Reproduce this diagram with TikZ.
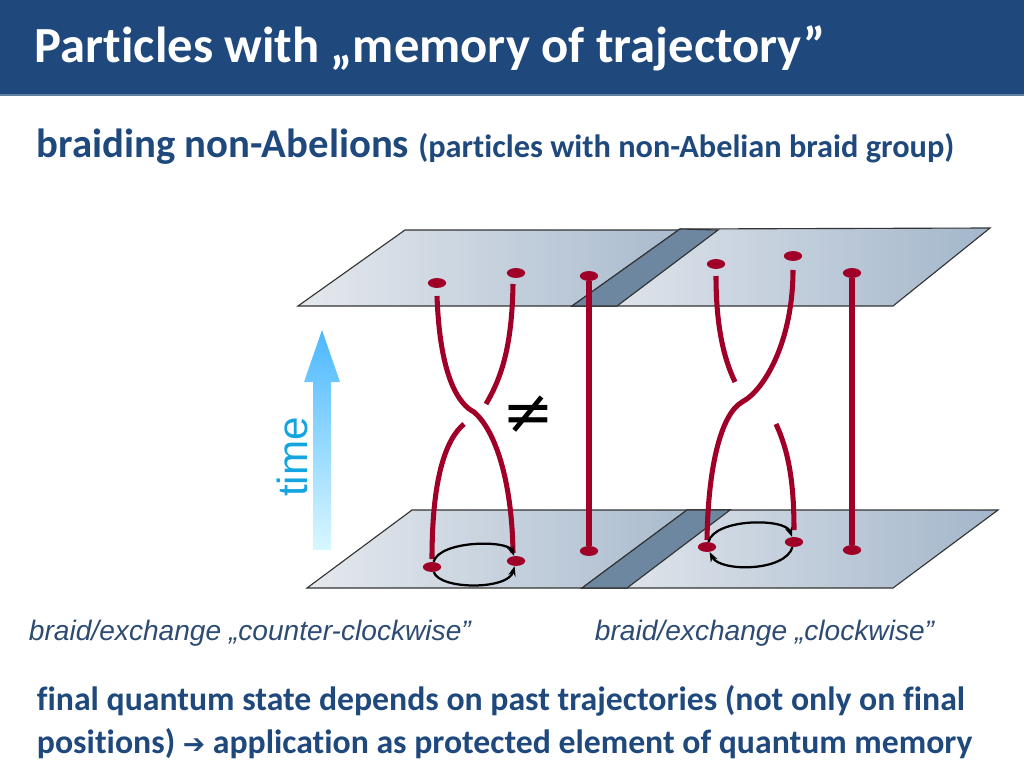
\documentclass[tikz,border=0pt]{standalone}
\usepackage{fontspec}
\setmainfont[Ligatures={NoCommon,NoRequired,NoContextual}]{Carlito}
\newfontfamily\capfont{Liberation Sans}
\newfontfamily\symfont{DejaVu Sans}
\usetikzlibrary{arrows.meta,shapes.geometric}
\definecolor{barblue}{RGB}{31,73,125}
\definecolor{strand}{RGB}{160,0,40}
\definecolor{planeA}{RGB}{222,227,233}
\definecolor{planeB}{RGB}{140,164,190}
\definecolor{overlap}{RGB}{110,135,160}
\definecolor{timecol}{RGB}{20,165,225}
\definecolor{capcol}{RGB}{45,75,115}
\begin{document}
\begin{tikzpicture}[x=0.025cm,y=-0.025cm,
    plane/.style={draw=black!80, line width=0.8pt, left color=planeA, right color=planeB, shading angle=90, fill opacity=0.8},
    braid/.style={draw=strand, line width=3.6pt},
    dot/.style={ellipse, fill=strand, minimum width=13pt, minimum height=7pt, inner sep=0pt},
    swap/.style={draw=black, line width=1.6pt, -{Stealth[length=7pt]}}]
    \useasboundingbox (0,0) rectangle (1024,768);

    % Titel
    \fill[barblue] (0,0) rectangle (1024,95);
    \draw[barblue!70, line width=1pt] (0,95) -- (1024,95);
    \node[anchor=west, text=white, font=\fontsize{36}{40}\selectfont\bfseries] (title) at (30,48) {Particles with „memory of trajectory”};
    \node[anchor=base west, text=barblue, font=\fontsize{29}{32}\selectfont\bfseries] (sub) at (32,158) {braiding non-Abelions \fontsize{23}{26}\selectfont(particles with non-Abelian braid group)};

    % Ebenen
    \shade[plane] (298,306) -- (405,230) -- (718,230) -- (617,306) -- cycle;
    \shade[plane] (572,306) -- (680,229) -- (990,228) -- (893,306) -- cycle;
    \fill[overlap, draw=black!80, line width=0.8pt] (572,306) -- (680,229) -- (718,230) -- (617,306) -- cycle;
    \shade[plane] (307,588) -- (412,510) -- (730,510) -- (627,588) -- cycle;
    \shade[plane] (582,588) -- (687,510) -- (998,510) -- (893,588) -- cycle;
    \fill[overlap, draw=black!80, line width=0.8pt] (582,588) -- (687,510) -- (730,510) -- (627,588) -- cycle;

    % Zeitpfeil
    \shade[bottom color=blue!20!cyan!15, top color=blue!40!cyan!70] (313,550) -- (313,382) -- (304,382) -- (322,330) -- (340,382) -- (331,382) -- (331,550) -- cycle;
    \node[rotate=90, text=timecol, font=\capfont\fontsize{30}{34}\selectfont] (time) at (292,457) {time};

    % Teilchen
    \foreach \n/\x/\y in {a1/437/283, a2/516/273, a3/589/276, b1/716/264, b2/793/256, b3/852/273,
                          c1/432/567, c2/516/561, c3/589/551, d1/707/547, d2/794/542, d3/852/550}
        \node[dot] (\n) at (\x,\y) {};

    % Zoepfe links
    \draw[braid] (437,296) .. controls (440,380) and (460,405) .. (474,412) .. controls (495,430) and (512,480) .. (513,553);
    \draw[braid] (513,284) .. controls (512,350) and (500,380) .. (486,404);
    \draw[braid] (432,559) .. controls (432,480) and (445,440) .. (464,424);
    \draw[braid] (a3) -- (c3);
    % Zoepfe rechts
    \draw[braid] (707,540) .. controls (708,470) and (720,415) .. (742,402) .. controls (765,390) and (793,340) .. (793,270);
    \draw[braid] (716,276) .. controls (716,320) and (722,355) .. (735,382);
    \draw[braid] (794,530) .. controls (794,480) and (788,450) .. (776,424);
    \draw[braid] (b3) -- (d3);

    \node[font=\symfont\fontsize{44}{48}\selectfont] (neq) at (528,415) {≠};

    % Vertauschung
    \draw[swap] (c1) .. controls (440,540) and (508,540) .. (c2);
    \draw[swap] (c1) .. controls (440,590) and (508,590) .. (c2);
    \draw[swap] (d1) .. controls (715,518) and (785,518) .. (d2);
    \draw[swap] (d2) .. controls (785,572) and (720,572) .. (d1);

    % Beschriftung
    \node[anchor=base west, text=capcol, font=\capfont\itshape\fontsize{20}{22}\selectfont] (ccw) at (24,640) {braid/exchange „counter-clockwise”};
    \node[anchor=base west, text=capcol, font=\capfont\itshape\fontsize{20}{22}\selectfont] (cw) at (590,640) {braid/exchange „clockwise”};
    \node[anchor=north west, text=barblue, align=left, font=\fontsize{24}{31}\selectfont\bfseries] (final) at (32,680)
        {final quantum state depends on past trajectories (not only on final\\positions) {\symfont\fontsize{19}{20}\selectfont➔} application as protected element of quantum memory};
\end{tikzpicture}
\end{document}
